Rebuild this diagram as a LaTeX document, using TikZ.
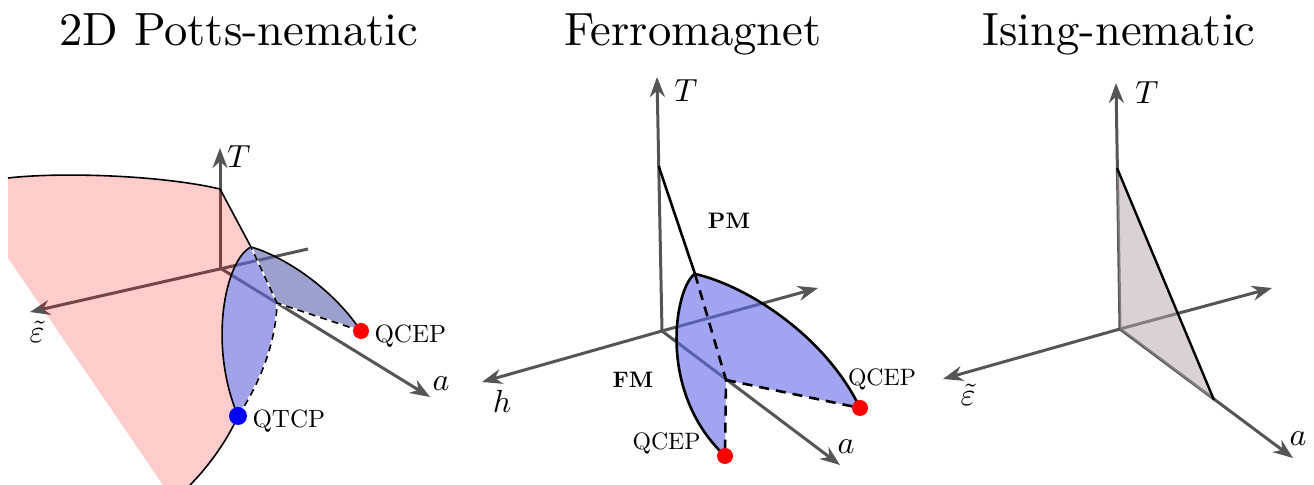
\documentclass[tikz,border=0pt]{standalone}
\usetikzlibrary{arrows.meta}
\definecolor{axisgray}{RGB}{85,85,85}
\definecolor{pinkfill}{RGB}{255,0,0}
\definecolor{faceA}{RGB}{100,100,222}
\definecolor{faceB}{RGB}{92,96,170}
\definecolor{faceC}{RGB}{96,104,232}
\definecolor{triface}{RGB}{178,165,170}
\definecolor{dotred}{RGB}{255,0,0}
\definecolor{dotblue}{RGB}{0,0,255}
\tikzset{
  axisline/.style={draw=axisgray,line width=1.5pt,-{Stealth[length=10pt,width=7.5pt]}},
  ttl/.style={anchor=base,scale=2.33,inner sep=0pt},
  axlbl/.style={scale=1.6,inner sep=0pt},
  ptlbl/.style={scale=1.25,inner sep=0pt},
  phlbl/.style={scale=1.12,inner sep=0pt,font=\bfseries},
  bdry/.style={draw=black,line width=0.8pt},
  bdryB/.style={draw=black,line width=1.3pt},
  wdash/.style={draw=white,line width=0.8pt},
  kdash/.style={draw=black,line width=0.8pt,dash pattern=on 3.5pt off 2.5pt},
  kdashB/.style={draw=black,line width=1.3pt,dash pattern=on 5pt off 3.5pt},
  critdot/.style={circle,inner sep=0pt,minimum size=8pt}
}
\begin{document}
\begin{tikzpicture}[x=0.5pt,y=-0.5pt]
\useasboundingbox (0,0) rectangle (1314,485);

% ---------- titles ----------
\node[ttl] (t1) at (239,46) {2D Potts-nematic};
\node[ttl] (t2) at (693,46) {Ferromagnet};
\node[ttl] (t3) at (1119,46) {Ising-nematic};

% ================= Panel 1 =================
\coordinate (O1) at (220,268);
\coordinate (T1) at (220,148);
\coordinate (E1) at (30,312);
\coordinate (B1) at (308,249);
\coordinate (A1) at (430,397);
\draw[axisline] (O1) -- (T1);
\draw[axisline] (B1) -- (E1);
\draw[axisline] (O1) -- (A1);

\coordinate (pk1) at (8,178);
\coordinate (pk2) at (220,189);
\coordinate (P1) at (251,247);
\coordinate (Q1) at (238,416);
\coordinate (I1) at (277,303);
\coordinate (R1) at (361,331);
\coordinate (pk3) at (190,485);
\coordinate (pk4) at (163,485);
\coordinate (pk5) at (8,258);

\fill[pinkfill,fill opacity=0.2] (pk1) .. controls (60,172) and (160,175) .. (pk2) -- (P1)
  .. controls (225,260) and (208,345) .. (Q1)
  .. controls (225,445) and (205,470) .. (pk3) -- (pk4) -- (pk5) -- cycle;

\fill[faceB,fill opacity=0.6] (P1) .. controls (280,255) and (330,285) .. (R1) -- (I1) -- cycle;
\fill[faceA,fill opacity=0.6] (P1) .. controls (225,260) and (208,345) .. (Q1)
  .. controls (262,380) and (276,340) .. (I1) -- cycle;

\draw[bdry] (pk1) .. controls (60,172) and (160,175) .. (pk2) -- (P1);
\draw[bdry] (P1) .. controls (225,260) and (208,345) .. (Q1);
\draw[bdry] (Q1) .. controls (225,445) and (205,470) .. (pk3);
\draw[bdry] (P1) .. controls (280,255) and (330,285) .. (R1);
\draw[wdash] (Q1) .. controls (262,380) and (276,340) .. (I1) -- (P1);
\draw[wdash] (R1) -- (I1);
\draw[kdash] (Q1) .. controls (262,380) and (276,340) .. (I1) -- (P1);
\draw[kdash] (R1) -- (I1);

\node[critdot,fill=dotred] (qcep1) at (R1) {};
\node[critdot,fill=dotblue,minimum size=9pt] (qtcp1) at (Q1) {};
\node[ptlbl,anchor=west] (lq1) at (374,336) {QCEP};
\node[ptlbl,anchor=west] (lq2) at (252,421) {QTCP};
\node[axlbl] (lT1) at (239,157) {$T$};
\node[axlbl] (lE1) at (37,332) {$\tilde{\varepsilon}$};
\node[axlbl] (lA1) at (441,384) {$a$};

% ================= Panel 2 =================
\coordinate (O2) at (662,331);
\coordinate (T2) at (657,77);
\coordinate (H2) at (482,382);
\coordinate (B2) at (818,288);
\coordinate (A2) at (840,465);
\draw[axisline] (O2) -- (T2);
\draw[axisline] (O2) -- (H2);
\draw[axisline] (O2) -- (B2);
\draw[axisline] (O2) -- (A2);

\coordinate (S2) at (658.6,166);
\coordinate (P2) at (695,274);
\coordinate (L2) at (725,456);
\coordinate (I2) at (726,380);
\coordinate (R2) at (860,408);

\fill[faceC,fill opacity=0.6] (P2) .. controls (676,285) and (655,390) .. (L2) -- (I2) -- (R2)
  .. controls (825,335) and (745,285) .. (P2) -- cycle;
\draw[bdryB] (S2) -- (P2);
\draw[bdryB] (P2) .. controls (676,285) and (655,390) .. (L2);
\draw[bdryB] (P2) .. controls (745,285) and (825,335) .. (R2);
\draw[kdashB] (P2) -- (I2) -- (L2);
\draw[kdashB] (I2) -- (R2);

\node[critdot,fill=dotred] (qcep2) at (L2) {};
\node[critdot,fill=dotred] (qcep3) at (R2) {};
\node[ptlbl,scale=0.95,anchor=east] (lq3) at (701,443) {QCEP};
\node[ptlbl,scale=0.95] (lq4) at (882,379) {QCEP};
\node[phlbl] (pm) at (729,221) {PM};
\node[phlbl] (fm) at (633,380) {FM};
\node[axlbl] (lT2) at (686,91) {$T$};
\node[axlbl] (lH2) at (502,401) {$h$};
\node[axlbl] (lA2) at (846,447) {$a$};

% ================= Panel 3 =================
\coordinate (O3) at (1120,329);
\coordinate (T3) at (1116,83);
\coordinate (E3) at (943,379);
\coordinate (B3) at (1272,288);
\coordinate (A3) at (1293,458);
\draw[axisline] (O3) -- (T3);
\draw[axisline] (O3) -- (E3);
\draw[axisline] (O3) -- (B3);
\draw[axisline] (O3) -- (A3);

\coordinate (Tp3) at (1117,168);
\coordinate (Ap3) at (1214,400);
\fill[triface,fill opacity=0.5] (O3) -- (Tp3) -- (Ap3) -- cycle;
\draw[bdryB,line width=1.2pt] (Tp3) -- (Ap3);

\node[axlbl] (lT3) at (1147,93) {$T$};
\node[axlbl] (lE3) at (968,395) {$\tilde{\varepsilon}$};
\node[axlbl] (lA3) at (1298,439) {$a$};
\end{tikzpicture}
\end{document}
